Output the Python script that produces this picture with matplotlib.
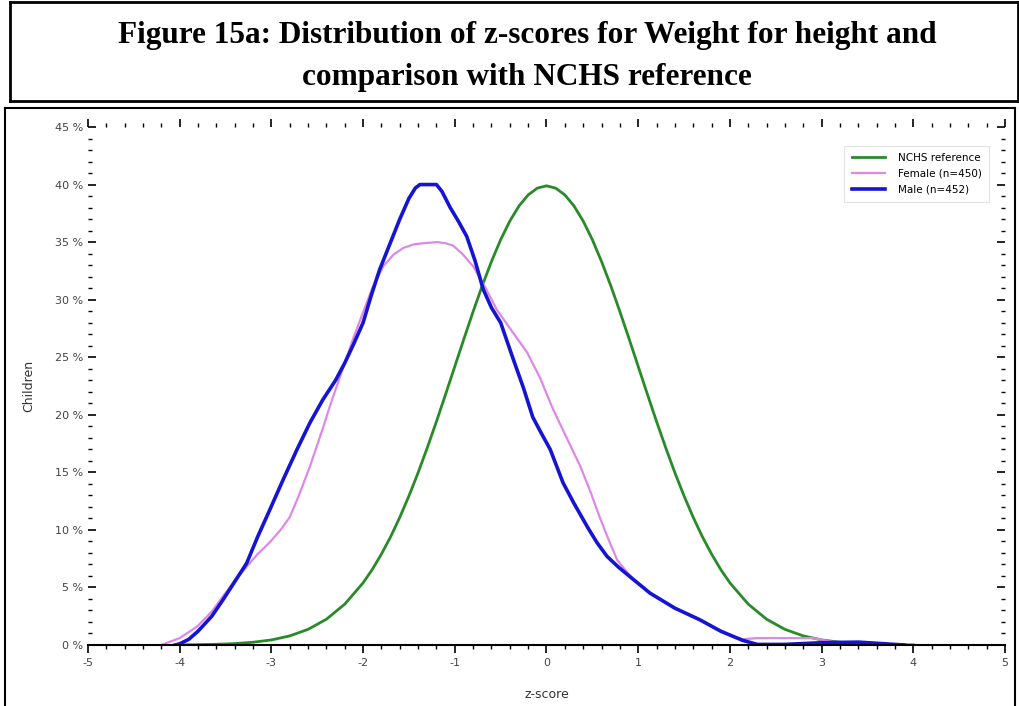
import numpy as np
import matplotlib.pyplot as plt
from matplotlib.lines import Line2D
from matplotlib.ticker import MultipleLocator, FuncFormatter

plt.rcParams['axes.unicode_minus'] = False

# values (z-score, % of children)
nchs_z = [-4.0, -3.8, -3.6, -3.4, -3.2, -3.0, -2.8, -2.6, -2.4, -2.2, -2.0, -1.9, -1.8, -1.7,
          -1.6, -1.5, -1.4, -1.3, -1.2, -1.1, -1.0, -0.9, -0.8, -0.7, -0.6, -0.5, -0.4,
          -0.3, -0.2, -0.1, 0.0, 0.1, 0.2, 0.3, 0.4, 0.5, 0.6, 0.7, 0.8, 0.9, 1.0, 1.1,
          1.2, 1.3, 1.4, 1.5, 1.6, 1.7, 1.8, 1.9, 2.0, 2.2, 2.4, 2.6, 2.8, 3.0, 3.2, 3.4,
          3.6, 3.8, 4.0]
nchs_pct = [0.01, 0.03, 0.06, 0.12, 0.24, 0.44, 0.79, 1.36, 2.24, 3.55, 5.4, 6.56, 7.9, 9.4,
            11.09, 12.95, 14.97, 17.14, 19.42, 21.79, 24.2, 26.61, 28.97, 31.23, 33.32, 35.21, 36.83,
            38.14, 39.1, 39.69, 39.89, 39.69, 39.1, 38.14, 36.83, 35.21, 33.32, 31.23, 28.97, 26.61, 24.2, 21.79,
            19.42, 17.14, 14.97, 12.95, 11.09, 9.4, 7.9, 6.56, 5.4, 3.55, 2.24, 1.36, 0.79, 0.44, 0.24, 0.12,
            0.06, 0.03, 0.01]

female_z = [-4.2, -4.0, -3.81, -3.65, -3.53, -3.4, -3.27, -3.15, -3.02, -2.9, -2.8, -2.7,
            -2.58, -2.44, -2.36, -2.2, -2.1, -2.0, -1.9, -1.78, -1.67, -1.56, -1.45, -1.35,
            -1.19, -1.1, -1.02, -0.92, -0.8, -0.67, -0.54, -0.38, -0.21, -0.07, 0.07, 0.22,
            0.37, 0.48, 0.58, 0.68, 0.77, 0.86, 0.95, 1.13, 1.4, 1.67, 1.9, 2.05, 2.14,
            2.3, 2.9, 3.1, 3.4, 3.6]
female_pct = [0.0, 0.6, 1.6, 2.9, 4.2, 5.6, 6.8, 7.9, 8.9, 10.0, 11.1, 13.0,
              15.5, 18.8, 20.8, 24.5, 26.8, 28.9, 31.0, 32.9, 33.9, 34.5, 34.8, 34.9,
              35.0, 34.9, 34.7, 34.0, 32.9, 31.1, 29.1, 27.3, 25.4, 23.2, 20.5, 18.0,
              15.5, 13.3, 11.1, 9.1, 7.4, 6.5, 5.7, 4.5, 3.2, 2.2, 1.2, 0.7, 0.5,
              0.6, 0.6, 0.3, 0.1, 0.0]

male_z = [-4.05, -4.0, -3.9, -3.8, -3.65, -3.53, -3.4, -3.27, -3.15, -3.02, -2.87, -2.72,
          -2.58, -2.44, -2.3, -2.2, -2.1, -2.0, -1.91, -1.82, -1.7, -1.6, -1.5, -1.43,
          -1.38, -1.2, -1.14, -1.05, -0.96, -0.87, -0.78, -0.69, -0.6, -0.5, -0.37, -0.25,
          -0.15, -0.05, 0.04, 0.18, 0.3, 0.45, 0.55, 0.66, 0.78, 0.9, 1.13, 1.4, 1.67,
          1.9, 2.05, 2.14, 2.3, 2.6, 3.0, 3.4, 3.7, 3.9]
male_pct = [0.0, 0.1, 0.5, 1.2, 2.5, 3.9, 5.5, 7.1, 9.4, 11.7, 14.4, 17.0,
            19.3, 21.3, 23.0, 24.5, 26.2, 28.0, 30.4, 32.6, 35.0, 37.0, 38.8, 39.7,
            40.0, 40.0, 39.4, 38.0, 36.8, 35.5, 33.4, 30.9, 29.3, 28.0, 25.0, 22.3,
            19.8, 18.3, 17.0, 14.1, 12.3, 10.2, 8.9, 7.7, 6.8, 6.0, 4.5, 3.2, 2.2,
            1.2, 0.7, 0.4, 0.05, 0.05, 0.2, 0.25, 0.1, 0.0]

W, H = 1020, 706
fig = plt.figure(figsize=(W / 100, H / 100), dpi=100)


def fx(px):
    return px / W


def fy(py):
    return 1 - py / H


# title box
for xs, ys in [([10, 1018], [2, 2]), ([10, 1018], [101, 101]), ([10, 10], [2, 101]),
               ([1018, 1018], [2, 101])]:
    fig.add_artist(Line2D([fx(v) for v in xs], [fy(v) for v in ys], color='black', lw=2))
# chart box
for xs, ys in [([5, 1015], [108, 108]), ([5, 5], [108, 706]), ([1015, 1015], [108, 706])]:
    fig.add_artist(Line2D([fx(v) for v in xs], [fy(v) for v in ys], color='black', lw=1.5))

fig.text(fx(527), fy(36), 'Figure 15a: Distribution of z-scores for Weight for height and',
         ha='center', va='center', family='Liberation Serif', weight='bold', fontsize=22.5)
fig.text(fx(527), fy(77), 'comparison with NCHS reference',
         ha='center', va='center', family='Liberation Serif', weight='bold', fontsize=22.5)

ax = fig.add_axes([fx(88), fy(645), fx(1005) - fx(88), fy(127) - fy(645)])
ax.plot(nchs_z, nchs_pct, color='#2a8a2a', lw=2.0, label='NCHS reference')
ax.plot(female_z, female_pct, color='#dd88e8', lw=1.6, label='Female (n=450)')
ax.plot(male_z, male_pct, color='#1414d2', lw=2.6, label='Male (n=452)')

ax.set_xlim(-5, 5)
ax.set_ylim(0, 45)
ax.xaxis.set_major_locator(MultipleLocator(1))
ax.xaxis.set_minor_locator(MultipleLocator(0.2))
ax.yaxis.set_major_locator(MultipleLocator(5))
ax.yaxis.set_minor_locator(MultipleLocator(1))
ax.yaxis.set_major_formatter(FuncFormatter(lambda v, p: '%d %%' % v))

for s in ['left', 'top', 'right']:
    ax.spines[s].set_visible(False)
ax.spines['bottom'].set_linewidth(1.5)

ax.tick_params(axis='x', which='both', direction='out', top=True, labeltop=False,
               labelsize=8, labelcolor='#444444')
ax.tick_params(axis='y', which='both', direction='in', right=True, labelsize=8,
               labelcolor='#444444')
ax.tick_params(which='major', length=6, width=1.2)
ax.tick_params(which='minor', length=3, width=1)

ax.set_xlabel('z-score', fontsize=9, color='#333333', labelpad=14)
ax.set_ylabel('Children', fontsize=9, color='#333333', labelpad=14)

leg = ax.legend(loc='upper right', bbox_to_anchor=(0.988, 0.974), fontsize=7.5,
                frameon=True, fancybox=False, handlelength=3.2, handletextpad=1.2,
                borderpad=0.7, labelspacing=0.55)
leg.get_frame().set_edgecolor('#dddddd')
leg.get_frame().set_linewidth(0.8)

fig.savefig('out.png', dpi=100)
